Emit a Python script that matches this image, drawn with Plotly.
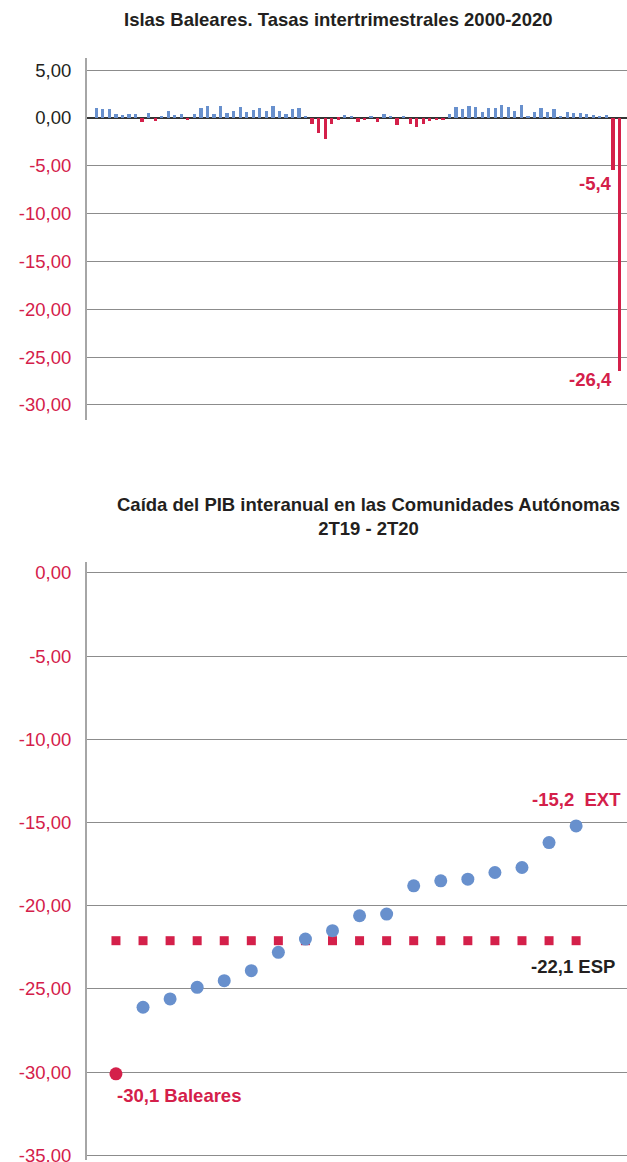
import plotly.graph_objects as go

# ---------------- Top chart data ----------------
quarters = [f"{y}T{q}" for y in range(2000, 2021) for q in range(1, 5)][1:82]
tasas = [1.08, 0.97, 0.97, 0.45, 0.35, 0.45, 0.45, -0.45, 0.55, -0.35,
         0.14, 0.76, 0.35, 0.45, -0.24, 0.45, 1.08, 1.28, 0.45, 1.28,
         0.55, 0.76, 1.18, 0.66, 0.87, 1.08, 0.76, 1.28, 0.76, 0.45,
         0.97, 1.08, 0.24, -0.59, -1.6, -2.2, -0.59, -0.17, 0.35, 0.14,
         -0.45, -0.24, 0.24, -0.45, 0.45, 0.14, -0.76, 0.14, -0.66, -0.97,
         -0.66, -0.35, -0.24, -0.24, 0.45, 1.18, 0.97, 1.28, 1.18, 0.66,
         1.08, 1.08, 1.39, 1.18, 0.76, 1.39, 0.24, 0.66, 1.08, 0.66,
         0.97, 0.24, 0.66, 0.55, 0.55, 0.45, 0.35, 0.24, 0.35, -5.4, -26.4]
top_tickvals = [5, 0, -5, -10, -15, -20, -25, -30]
top_ticktext = ["5,00", "0,00", "-5,00", "-10,00", "-15,00", "-20,00", "-25,00", "-30,00"]

# ---------------- Bottom chart data ----------------
ccaa = ["Baleares", "CA2", "CA3", "CA4", "CA5", "CA6", "CA7", "CA8", "CA9",
        "CA10", "CA11", "CA12", "CA13", "CA14", "CA15", "CA16", "CA17", "EXT"]
caida = [-30.1, -26.1, -25.6, -24.9, -24.5, -23.9, -22.8, -22.0, -21.5,
         -20.6, -20.5, -18.8, -18.5, -18.4, -18.0, -17.7, -16.2, -15.2]
esp = -22.1
bot_tickvals = [0, -5, -10, -15, -20, -25, -30, -35]
bot_ticktext = ["0,00", "-5,00", "-10,00", "-15,00", "-20,00", "-25,00", "-30,00", "-35,00"]

BLUE = "#6890cd"
RED = "#d4204a"
DARK = "#231f20"
FONT = "Liberation Sans, Arial, sans-serif"
FS = 18.5

W, H = 627, 1162
def py(px):
    return 1 - px / H

fig = go.Figure()

bar_colors = [BLUE if v >= 0 else RED for v in tasas]
fig.add_trace(go.Bar(x=quarters, y=tasas, marker=dict(color=bar_colors, line=dict(width=0)),
                     width=0.5, xaxis="x", yaxis="y", showlegend=False))

fig.add_trace(go.Scatter(x=ccaa, y=[esp] * len(ccaa), mode="markers",
                         marker=dict(symbol="square", size=9, color=RED),
                         xaxis="x2", yaxis="y2", showlegend=False))
dot_colors = [RED if c == "Baleares" else BLUE for c in ccaa]
fig.add_trace(go.Scatter(x=ccaa, y=caida, mode="markers",
                         marker=dict(size=13, color=dot_colors),
                         xaxis="x2", yaxis="y2", showlegend=False))

def colored(vals, texts, pos_color):
    return [f"<span style='color:{pos_color if v >= 0 else RED}'>{t}</span>" for v, t in zip(vals, texts)]

fig.update_layout(
    width=W, height=H,
    margin=dict(l=0, r=0, t=0, b=0),
    paper_bgcolor="white", plot_bgcolor="white",
    font=dict(family=FONT, size=FS, color=DARK),
    bargap=0,
    xaxis=dict(domain=[87 / W, 1], anchor="y", type="category", automargin=False,
               range=[-1.42, 81.15], showticklabels=False, showgrid=False,
               zeroline=False, showline=False, ticks=""),
    yaxis=dict(domain=[py(420), py(58)], anchor="x", range=[-31.57, 6.27], automargin=False,
               tickvals=top_tickvals,
               ticktext=colored(top_tickvals, top_ticktext, DARK),
               showgrid=True, gridcolor="#8c8c8c", gridwidth=1,
               zeroline=True, zerolinecolor="#333333", zerolinewidth=2,
               showline=True, linecolor="#a6a6a6", linewidth=2,
               ticks="", ticklabelstandoff=10, ticklabeloverflow="allow",
               tickfont=dict(size=FS, family=FONT)),
    xaxis2=dict(domain=[87 / W, 1], anchor="y2", type="category", automargin=False,
                range=[-1.07, 18.88], showticklabels=False, showgrid=False,
                zeroline=False, showline=False, ticks=""),
    yaxis2=dict(domain=[py(1160), py(562)], anchor="x2", range=[-35.28, 0.66], automargin=False,
                tickvals=bot_tickvals,
                ticktext=colored([-1] * len(bot_tickvals), bot_ticktext, DARK),
                showgrid=True, gridcolor="#8c8c8c", gridwidth=1,
                zeroline=False,
                showline=True, linecolor="#a6a6a6", linewidth=2,
                ticks="", ticklabelstandoff=10, ticklabeloverflow="allow",
                tickfont=dict(size=FS, family=FONT)),
)

annotations = [
    dict(text="<b>Islas Baleares. Tasas intertrimestrales 2000-2020</b>", x=338 / W, y=py(20),
         xref="paper", yref="paper", yanchor="middle", showarrow=False,
         font=dict(size=FS, color=DARK)),
    dict(text="<b>Caída del PIB interanual en las Comunidades Autónomas<br>2T19 - 2T20</b>",
         x=368 / W, y=py(517), xref="paper", yref="paper", yanchor="middle", showarrow=False,
         font=dict(size=FS, color=DARK)),
    dict(text="<b>-5,4</b>", x=quarters[-2], y=tasas[-2], xref="x", yref="y",
         xanchor="right", yanchor="top", yshift=-1, xshift=1, showarrow=False,
         font=dict(size=FS, color=RED)),
    dict(text="<b>-26,4</b>", x=quarters[-1], y=tasas[-1], xref="x", yref="y",
         xanchor="right", yanchor="top", yshift=4, xshift=-5, showarrow=False,
         font=dict(size=FS, color=RED)),
    dict(text="<b>-15,2  EXT</b>", x=ccaa[-1], y=caida[-1], xref="x2", yref="y2",
         xanchor="right", yanchor="bottom", yshift=14, xshift=47, showarrow=False,
         font=dict(size=FS, color=RED)),
    dict(text="<b>-22,1 ESP</b>", x=ccaa[-1], y=esp, xref="x2", yref="y2",
         xanchor="right", yanchor="top", yshift=-13, xshift=41, showarrow=False,
         font=dict(size=FS, color=DARK)),
    dict(text="<b>-30,1 Baleares</b>", x=ccaa[0], y=caida[0], xref="x2", yref="y2",
         xanchor="left", yanchor="top", yshift=-9, xshift=-1, showarrow=False,
         font=dict(size=FS, color=RED)),
]
fig.update_layout(annotations=annotations)

fig.write_html("out.html", config={"displayModeBar": False},
               post_script="document.body.style.margin='0';document.body.style.overflow='hidden';")
